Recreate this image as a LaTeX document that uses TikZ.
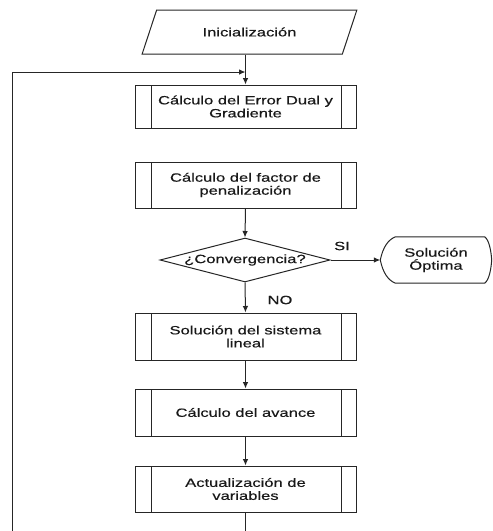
\documentclass[tikz,border=0pt]{standalone}
\usepackage{fontspec}
\setmainfont{Liberation Sans}[FakeStretch=1.38, FakeBold=0.4]
\usetikzlibrary{shapes.geometric,arrows.meta}

\tikzset{
  base/.style={font=\fontsize{12}{13}\selectfont, text=black!90, align=center, inner sep=0pt},
  linecol/.style={draw=black!85, line width=1pt},
  procbox/.style={base, linecol, rectangle, minimum width=221pt,
    path picture={
      \draw[linecol] ([xshift=16pt]path picture bounding box.north west) -- ([xshift=16pt]path picture bounding box.south west);
      \draw[linecol] ([xshift=-15pt]path picture bounding box.north east) -- ([xshift=-15pt]path picture bounding box.south east);
    }},
  iobox/.style={base, linecol, trapezium, trapezium stretches=true,
    trapezium left angle=50.7, trapezium right angle=129.3,
    minimum width=215pt, minimum height=44pt},
  decision/.style={base, linecol, diamond, aspect=3.86, minimum width=170pt, minimum height=44pt},
  flow/.style={linecol, -{Latex[length=6.5pt,width=5.5pt]}},
  plain/.style={linecol},
  lbl/.style={base}
}

\begin{document}
\begin{tikzpicture}[x=1pt, y=-1pt]
  \useasboundingbox (0,0) rectangle (493,531);
  \fill[white] (0,0) rectangle (493,531);

  % start block
  \node[iobox] (init) at (249.5,32) {Inicialización};

  % process blocks
  \node[procbox, minimum height=43pt] (b1) at (245.5,106.5) {Cálculo del Error Dual y\\Gradiente};
  \node[procbox, minimum height=46pt] (b2) at (245.5,185) {Cálculo del factor de\\penalización};
  \node[decision] (conv) at (245,260) {¿Convergencia?};
  \node[procbox, minimum height=47pt] (b3) at (245.5,336.5) {Solución del sistema\\lineal};
  \node[procbox, minimum height=47pt] (b4) at (245.5,412.5) {Cálculo del avance};
  \node[procbox, minimum height=46pt] (b5) at (245.5,489) {Actualización de\\variables};

  % terminal block
  \node[base, minimum width=111pt, minimum height=46pt] (opt) at (436,260) {Solución\\Óptima};
  \draw[linecol] (opt.west) .. controls (383,247) and (388,240) .. ([xshift=15pt]opt.north west)
    -- ([xshift=-7pt]opt.north east) .. controls (489,240) and (491,250) .. (opt.east)
    .. controls (491,270) and (489,280) .. ([xshift=-7pt]opt.south east)
    -- ([xshift=15pt]opt.south west) .. controls (388,280) and (383,273) .. (opt.west);

  % labels
  \node[lbl] (si) at (342,246) {SI};
  \node[lbl] (no) at (280,300) {NO};

  % loop coordinates
  \coordinate (loopB) at (12,531);
  \coordinate (loopT) at (12,72);
  \coordinate (outB) at (245.5,531);

  % connectors
  \draw[flow] (b1.north |- init.south) -- (b1.north);
  \draw[flow] (b2.south) -- (conv.north);
  \draw[flow] (conv.east) -- (opt.west);
  \draw[flow] (conv.south) -- (b3.north);
  \draw[flow] (b3.south) -- (b4.north);
  \draw[flow] (b4.south) -- (b5.north);
  \draw[plain] (b5.south) -- (outB);
  \draw[flow] (loopB) -- (loopT) -- (loopT -| b1.north);
\end{tikzpicture}
\end{document}
